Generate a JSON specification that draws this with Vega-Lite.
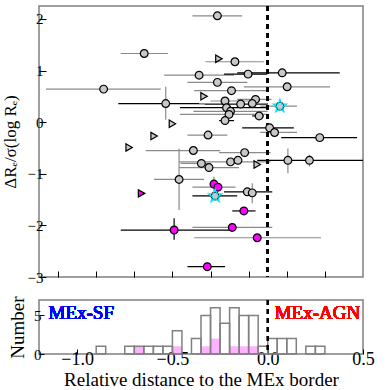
{
  "$schema": "https://vega.github.io/schema/vega-lite/v6.json",
  "padding": {"left": 0, "top": 4, "right": 5, "bottom": 0},
  "spacing": 9,
  "config": {
    "concat": {"spacing": 9},
    "view": {"stroke": "#808080", "strokeWidth": 1.5},
    "font": "Liberation Serif",
    "axis": {"labelFont": "Liberation Serif", "titleFont": "Liberation Serif", "titleFontWeight": "normal", "labelColor": "#000", "titleColor": "#000", "domain": false, "grid": false, "tickColor": "#000", "tickWidth": 1, "labelOverlap": false, "minExtent": 0}
  },
  "datasets": {
    "pts": [
      {"x": -0.648, "y": 1.33, "xlo": -0.771, "xhi": -0.523, "shape": "c", "grp": "n", "ec": "g"},
      {"x": -0.861, "y": 0.64, "xlo": -1.163, "xhi": -0.561, "shape": "c", "grp": "n", "ec": "g"},
      {"x": -0.36, "y": 0.91, "xlo": -0.543, "xhi": -0.177, "shape": "c", "grp": "n", "ec": "g"},
      {"x": -0.535, "y": 0.36, "xlo": -0.784, "xhi": 0.0, "ylo": 0.046, "yhi": 0.685, "shape": "c", "grp": "n", "ec": "k", "vc": "g"},
      {"x": -0.264, "y": 2.06, "xlo": -0.395, "xhi": -0.134, "shape": "c", "grp": "n", "ec": "g"},
      {"x": -0.172, "y": 1.17, "xlo": -0.326, "xhi": -0.02, "shape": "c", "grp": "n", "ec": "g"},
      {"x": -0.103, "y": 0.93, "xlo": -0.229, "xhi": -0.003, "shape": "c", "grp": "n", "ec": "k"},
      {"x": 0.076, "y": 0.955, "xlo": -0.16, "xhi": 0.378, "shape": "c", "grp": "n", "ec": "k"},
      {"x": -0.264, "y": 0.77, "xlo": -0.421, "xhi": -0.107, "shape": "c", "grp": "n", "ec": "g"},
      {"x": 0.102, "y": 0.685, "xlo": -0.125, "xhi": 0.327, "shape": "c", "grp": "n", "ec": "g"},
      {"x": -0.19, "y": 0.61, "xlo": -0.386, "xhi": -0.003, "shape": "c", "grp": "n", "ec": "g"},
      {"x": -0.224, "y": 0.41, "xlo": -0.3, "xhi": -0.04, "shape": "c", "grp": "n", "ec": "g"},
      {"x": -0.064, "y": 0.44, "xlo": -0.16, "xhi": 0.02, "shape": "c", "grp": "n", "ec": "g"},
      {"x": -0.142, "y": 0.35, "xlo": -0.33, "xhi": 0.0, "shape": "c", "grp": "n", "ec": "k"},
      {"x": -0.081, "y": 0.36, "xlo": -0.36, "xhi": 0.0, "shape": "c", "grp": "n", "ec": "g"},
      {"x": -0.216, "y": 0.28, "xlo": -0.46, "xhi": 0.005, "shape": "c", "grp": "n", "ec": "k"},
      {"x": -0.195, "y": 0.21, "xlo": -0.39, "xhi": 0.0, "shape": "c", "grp": "n", "ec": "g"},
      {"x": -0.203, "y": 0.15, "xlo": -0.46, "xhi": 0.0, "shape": "c", "grp": "n", "ec": "g"},
      {"x": -0.224, "y": 0.03, "xlo": -0.255, "xhi": -0.177, "shape": "c", "grp": "n", "ec": "k"},
      {"x": -0.045, "y": 0.12, "xlo": -0.081, "xhi": -0.02, "shape": "c", "grp": "n", "ec": "k"},
      {"x": 0.064, "y": 0.31, "xlo": -0.039, "xhi": 0.154, "shape": "s", "grp": "n", "ec": "g"},
      {"x": 0.01, "y": -0.11, "xlo": -0.134, "xhi": 0.137, "shape": "c", "grp": "n", "ec": "k"},
      {"x": 0.036, "y": -0.2, "xlo": -0.039, "xhi": 0.154, "shape": "c", "grp": "n", "ec": "g"},
      {"x": -0.313, "y": -0.25, "xlo": -0.421, "xhi": -0.212, "shape": "c", "grp": "n", "ec": "g"},
      {"x": 0.273, "y": -0.3, "xlo": 0.071, "xhi": 0.469, "shape": "c", "grp": "n", "ec": "k"},
      {"x": -0.39, "y": -0.55, "xlo": -0.64, "xhi": -0.249, "shape": "c", "grp": "n", "ec": "g"},
      {"x": -0.465, "y": -1.11, "xlo": -0.596, "xhi": -0.334, "ylo": -1.7, "yhi": -0.509, "shape": "c", "grp": "n", "ec": "g", "vc": "g"},
      {"x": -0.121, "y": -0.59, "xlo": -0.255, "xhi": 0.015, "shape": "c", "grp": "n", "ec": "g"},
      {"x": 0.106, "y": -0.74, "xlo": -0.055, "xhi": 0.5, "ylo": -0.99, "yhi": -0.509, "shape": "c", "grp": "n", "ec": "k", "vc": "g"},
      {"x": 0.219, "y": -0.74, "ylo": -0.86, "yhi": -0.63, "shape": "c", "grp": "n", "vc": "g"},
      {"x": -0.348, "y": -0.8, "xlo": -0.457, "xhi": -0.301, "shape": "c", "grp": "n", "ec": "g"},
      {"x": -0.308, "y": -0.88, "xlo": -0.465, "xhi": -0.151, "shape": "c", "grp": "n", "ec": "g"},
      {"x": -0.195, "y": -0.77, "xlo": -0.465, "xhi": 0.015, "shape": "c", "grp": "n", "ec": "g"},
      {"x": -0.156, "y": -0.74, "shape": "c", "grp": "n"},
      {"x": -0.276, "y": -1.43, "xlo": -0.395, "xhi": -0.16, "shape": "s", "grp": "n", "ec": "k"},
      {"x": -0.107, "y": -1.35, "xlo": -0.229, "xhi": 0.024, "shape": "c", "grp": "n", "ec": "k"},
      {"x": -0.081, "y": -1.37, "ylo": -1.573, "yhi": -1.186, "shape": "c", "grp": "n", "vc": "g"},
      {"x": -0.5, "y": -0.03, "shape": "t", "grp": "n"},
      {"x": -0.596, "y": -0.27, "shape": "t", "grp": "n"},
      {"x": -0.727, "y": -0.49, "shape": "t", "grp": "n"},
      {"x": -0.256, "y": 1.23, "shape": "t", "grp": "n"},
      {"x": -0.334, "y": 0.5, "shape": "t", "grp": "n"},
      {"x": -0.055, "y": -0.82, "shape": "t", "grp": "n"},
      {"x": -0.662, "y": -1.38, "shape": "t", "grp": "m"},
      {"x": -0.282, "y": -1.2, "ylo": -1.33, "yhi": -1.06, "shape": "c", "grp": "m", "vc": "g"},
      {"x": -0.261, "y": -1.26, "xlo": -0.395, "xhi": -0.169, "shape": "c", "grp": "m", "ec": "g"},
      {"x": -0.125, "y": -1.72, "xlo": -0.186, "xhi": -0.064, "shape": "c", "grp": "m", "ec": "k"},
      {"x": -0.186, "y": -2.04, "xlo": -0.395, "xhi": 0.024, "shape": "c", "grp": "m", "ec": "g"},
      {"x": -0.055, "y": -2.24, "xlo": -0.386, "xhi": 0.28, "shape": "c", "grp": "m", "ec": "g"},
      {"x": -0.317, "y": -2.8, "xlo": -0.421, "xhi": -0.224, "shape": "c", "grp": "m", "ec": "k"},
      {"x": -0.491, "y": -2.09, "xlo": -0.771, "xhi": -0.195, "ylo": -2.28, "yhi": -1.863, "shape": "c", "grp": "m", "ec": "k", "vc": "k"}
    ],
    "hist": [
      {"b0": -0.9, "b1": -0.85, "n": 1, "nm": 0},
      {"b0": -0.75, "b1": -0.7, "n": 1, "nm": 0},
      {"b0": -0.7, "b1": -0.65, "n": 1, "nm": 1},
      {"b0": -0.65, "b1": -0.6, "n": 1, "nm": 0},
      {"b0": -0.6, "b1": -0.55, "n": 1, "nm": 0},
      {"b0": -0.55, "b1": -0.5, "n": 1, "nm": 0},
      {"b0": -0.5, "b1": -0.45, "n": 3, "nm": 1},
      {"b0": -0.4, "b1": -0.35, "n": 2, "nm": 0},
      {"b0": -0.35, "b1": -0.3, "n": 5, "nm": 1},
      {"b0": -0.3, "b1": -0.25, "n": 6, "nm": 2},
      {"b0": -0.25, "b1": -0.2, "n": 4, "nm": 0},
      {"b0": -0.2, "b1": -0.15, "n": 6, "nm": 1},
      {"b0": -0.15, "b1": -0.1, "n": 5, "nm": 1},
      {"b0": -0.1, "b1": -0.05, "n": 5, "nm": 1},
      {"b0": -0.05, "b1": 0.0, "n": 1, "nm": 0},
      {"b0": 0.0, "b1": 0.05, "n": 2, "nm": 0},
      {"b0": 0.05, "b1": 0.1, "n": 2, "nm": 0},
      {"b0": 0.1, "b1": 0.15, "n": 2, "nm": 0},
      {"b0": 0.2, "b1": 0.25, "n": 1, "nm": 0},
      {"b0": 0.25, "b1": 0.3, "n": 1, "nm": 0}
    ]
  },
  "vconcat": [
    {
      "width": 324,
      "height": 271,
      "data": {"name": "pts"},
      "layer": [
        {
          "transform": [{"filter": "isValid(datum.xlo)"}],
          "mark": {"type": "rule", "strokeWidth": 1.2},
          "encoding": {
            "x": {"field": "xlo", "type": "quantitative", "scale": {"domain": [-1.2, 0.5], "nice": false, "zero": false},
              "axis": {"title": null, "labels": false, "minExtent": 0, "values": [-1.1, -1.0, -0.9, -0.8, -0.7, -0.6, -0.5, -0.4, -0.3, -0.2, -0.1, 0, 0.1, 0.2, 0.3, 0.4], "tickSize": -6}},
            "x2": {"field": "xhi"},
            "y": {"field": "y", "type": "quantitative", "scale": {"domain": [-3, 2.25], "nice": false, "zero": false},
              "axis": {"title": "ΔRₑ/σ(log Rₑ)", "titleFontSize": 17, "titlePadding": 8, "labelFontSize": 15, "labelPadding": 3, "labelOverlap": false,
                "values": [-3, -2, -1, 0, 1, 2], "tickSize": -7}},
            "stroke": {"field": "ec", "type": "nominal", "scale": {"domain": ["g", "k"], "range": ["#8a8a8a", "#000000"]}, "legend": null}
          }
        },
        {
          "transform": [{"filter": "isValid(datum.ylo)"}],
          "mark": {"type": "rule", "strokeWidth": 1.2},
          "encoding": {
            "x": {"field": "x", "type": "quantitative", "scale": {"domain": [-1.2, 0.5], "nice": false, "zero": false}},
            "y": {"field": "ylo", "type": "quantitative", "scale": {"domain": [-3, 2.25], "nice": false, "zero": false}},
            "y2": {"field": "yhi"},
            "stroke": {"field": "vc", "type": "nominal", "scale": {"domain": ["g", "k"], "range": ["#8a8a8a", "#000000"]}, "legend": null}
          }
        },
        {
          "mark": {"type": "rule", "strokeDash": [5, 4], "strokeWidth": 1.5, "color": "#000"},
          "encoding": {"x": {"datum": 0, "type": "quantitative"}}
        },
        {
          "transform": [{"filter": "datum.shape === 'c' || datum.shape === 's'"}],
          "mark": {"type": "point", "shape": "circle", "filled": true, "size": 60, "stroke": "#000", "strokeWidth": 1.2, "opacity": 1},
          "encoding": {
            "x": {"field": "x", "type": "quantitative"},
            "y": {"field": "y", "type": "quantitative"},
            "fill": {"field": "grp", "type": "nominal", "scale": {"domain": ["n", "m"], "range": ["#c8c8c8", "#ff00ff"]}, "legend": null}
          }
        },
        {
          "transform": [{"filter": "datum.shape === 't'"}],
          "mark": {"type": "point", "shape": "triangle-right", "filled": true, "size": 55, "stroke": "#000", "strokeWidth": 1.2, "opacity": 1},
          "encoding": {
            "x": {"field": "x", "type": "quantitative"},
            "y": {"field": "y", "type": "quantitative"},
            "fill": {"field": "grp", "type": "nominal", "scale": {"domain": ["n", "m"], "range": ["#c8c8c8", "#ff00ff"]}, "legend": null}
          }
        },
        {
          "transform": [{"filter": "datum.shape === 's'"}],
          "mark": {"type": "point", "shape": "M0,-1L0.235,-0.324L0.951,-0.309L0.38,0.124L0.588,0.809L0,0.4L-0.588,0.809L-0.38,0.124L-0.951,-0.309L-0.235,-0.324Z", "filled": false, "size": 200, "stroke": "#00e5ff", "strokeWidth": 1.2, "opacity": 1},
          "encoding": {
            "x": {"field": "x", "type": "quantitative"},
            "y": {"field": "y", "type": "quantitative"}
          }
        }
      ]
    },
    {
      "width": 324,
      "height": 54,
      "data": {"name": "hist"},
      "layer": [
        {
          "transform": [{"filter": "datum.nm > 0"}],
          "mark": {"type": "rect", "fill": "#ff00ff", "fillOpacity": 0.3, "strokeWidth": 0},
          "encoding": {
            "x": {"field": "b0", "type": "quantitative", "scale": {"domain": [-1.2, 0.5], "nice": false, "zero": false},
              "axis": {"title": "Relative distance to the MEx border", "titleFontSize": 19, "titlePadding": 2, "labelFontSize": 18, "labelPadding": 1, "labelFlush": false,
                "values": [-1, -0.5, 0, 0.5], "format": ".1f", "tickSize": -5}},
            "x2": {"field": "b1"},
            "y": {"field": "nm", "type": "quantitative", "scale": {"domain": [0, 7], "nice": false, "zero": true},
              "axis": {"title": "Number", "titleFontSize": 19, "titlePadding": 6, "labelFontSize": 15, "labelPadding": 3, "labelFlush": false, "values": [0, 5], "tickSize": -5}},
            "y2": {"datum": 0}
          }
        },
        {
          "mark": {"type": "rect", "fill": "#ffffff", "fillOpacity": 0, "stroke": "#808080", "strokeWidth": 1.5},
          "encoding": {
            "x": {"field": "b0", "type": "quantitative"},
            "x2": {"field": "b1"},
            "y": {"field": "n", "type": "quantitative"},
            "y2": {"datum": 0}
          }
        },
        {
          "mark": {"type": "rule", "strokeDash": [5, 4], "strokeWidth": 1.5, "color": "#000"},
          "encoding": {"x": {"datum": 0, "type": "quantitative"}}
        },
        {
          "mark": {"type": "text", "text": "MEx-SF", "color": "#0000ff", "fontSize": 19, "fontWeight": "normal", "align": "left", "baseline": "middle"},
          "encoding": {"x": {"datum": -1.15, "type": "quantitative"}, "y": {"datum": 5.3, "type": "quantitative"}}
        },
        {
          "mark": {"type": "text", "text": "MEx-AGN", "color": "#ff0000", "fontSize": 19, "fontWeight": "normal", "align": "right", "baseline": "middle"},
          "encoding": {"x": {"datum": 0.485, "type": "quantitative"}, "y": {"datum": 5.3, "type": "quantitative"}}
        }
      ]
    }
  ]
}
